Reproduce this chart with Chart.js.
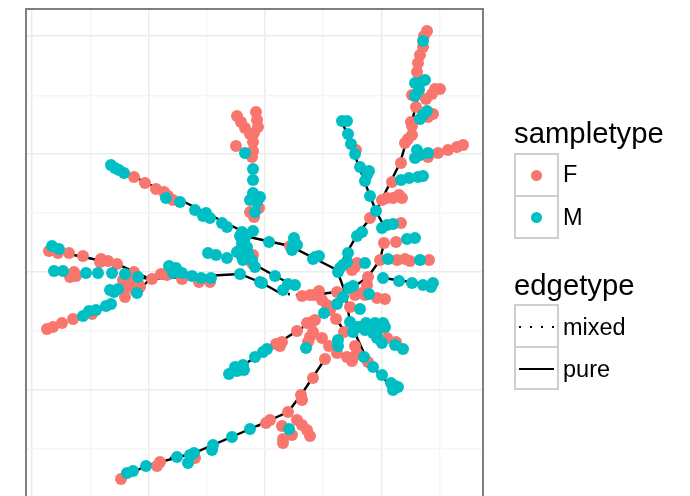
<!DOCTYPE html>
<html>
<head>
<meta charset="utf-8">
<script src="https://cdn.jsdelivr.net/npm/chart.js@4/dist/chart.umd.min.js"></script>
<style>
  html, body { margin: 0; padding: 0; background: #fff; overflow: hidden; }
  #wrap { position: relative; width: 690px; height: 496px; font-family: "Liberation Sans", Arial, sans-serif; color: #000; }
  canvas { position: absolute; left: 0; top: 0; }
  .titulo, .rotulo { position: absolute; white-space: nowrap; line-height: 1; }
  .titulo { font-size: 29.3px; left: 514px; }
  .rotulo { font-size: 23.5px; left: 563px; }
  .chave { position: absolute; left: 514px; width: 41px; height: 40px; border: 2px solid #cfcfcf; box-sizing: content-box; }
  .ponto { position: absolute; left: 15px; top: 14.5px; width: 11px; height: 11px; border-radius: 50%; }
  .linha { position: absolute; left: 3px; width: 35px; height: 2px; }
</style>
</head>
<body>
<div id="wrap">
  <canvas id="grafico" width="690" height="496"></canvas>

  <div class="titulo" style="top:118px">sampletype</div>
  <div class="chave" style="top:153px"><div class="ponto" style="background:#F8766D"></div></div>
  <div class="chave" style="top:195px"><div class="ponto" style="background:#00BFC4"></div></div>
  <div class="rotulo" style="top:163px">F</div>
  <div class="rotulo" style="top:206px">M</div>

  <div class="titulo" style="top:270px">edgetype</div>
  <div class="chave" style="top:304px"><div class="linha" style="top:20px;background:repeating-linear-gradient(90deg,#000 0 2px,transparent 2px 11px)"></div></div>
  <div class="chave" style="top:346px"><div class="linha" style="top:20px;background:#000"></div></div>
  <div class="rotulo" style="top:316px">mixed</div>
  <div class="rotulo" style="top:358px">pure</div>
</div>

<script>
// Coordenadas do layout da rede (eixos sem rotulos)
const pontosF = [
  [102,319],[113,313],[124,307],[132,304],[136,300],[141,296],
  [205,380],[209,374],[213,368],[218,362],[224,384],[225,376],[226,369],[222,363],[221,354],[221,345],[220,339],[204,350],
  [218,284],[222,279],[227,288],
  [395,465],[392,460],[391,449],[388,441],[386,433],[385,424],[380,401],[408,407],[403,407],[400,402],[394,397],[384,389],
  [401,382],[396,379],[379,374],[380,370],[380,361],[376,357],[373,353],[369,333],[360,314],
  [396,339],[406,343],[416,346],[425,349],[431,351],
  [350,296],[355,298],[361,298],[367,301],[370,298],[324,346],[338,278],[369,273],[352,253],[364,254],[258,250],
  [325,233],[320,226],[323,229],[348,236],[365,236],[373,237],[378,235],[397,236],
  [336,219],[335,211],[330,203],[333,201],[323,201],[345,198],[353,197],[305,204],[318,189],
  [270,200],[278,201],[287,205],[282,201],[290,196],[295,191],[298,186],[304,177],[312,164],[355,158],[364,154],
  [280,174],[275,173],[283,176],[281,164],[278,159],[276,154],[265,165],
  [290,158],[297,150],[305,143],[315,139],[320,135],[323,150],[325,143],[321,138],[336,134],
  [250,154],[244,152],[248,150],
  [293,137],[281,118],[269,101],[270,96],[256,84],[265,76],[270,71],[275,66],[278,60],[250,70],[260,61],[251,57],[251,53],
  [238,76],[234,73],[163,38],[128,34],[125,30],[89,17],
  [17,245],[26,243],[37,243],[51,240],[69,237],[76,235],[85,232],[68,234],[42,224],[38,219],[44,220],
  [102,224],[91,216],[98,214],[108,209],[103,206],[93,199],[95,209],[100,218],[106,213],[120,217],[129,222],[135,221],
  [150,217],[167,214],[178,214],
  [15,167],[21,169],[30,173],[41,177],[60,182],
  [221,241],[220,233]
];

const pontosM = [
  [79,331],[83,328],[87,326],[92,323],[134,298],[148,294],[163,286],[171,280],[174,283],[178,278],[190,273],[195,269],
  [210,264],[221,265],[212,254],[208,260],[214,260],[213,343],[221,327],[221,316],[221,303],[218,296],[223,296],[228,299],[225,294],[223,284],
  [391,455],[393,416],[388,413],[383,413],[387,406],[383,400],[395,385],[391,381],[388,377],[385,346],[383,338],[388,341],[396,343],
  [369,316],[377,318],[386,319],[391,320],
  [310,375],[315,375],[316,362],[319,352],[323,342],[328,329],[337,325],[335,321],[333,315],[338,300],[344,285],
  [350,268],[355,271],[361,272],[375,257],[383,258],[330,264],[325,260],
  [262,258],[237,254],[261,251],[265,251],[260,246],[316,243],[315,234],[311,231],[308,228],[306,224],[333,233],
  [283,239],[287,240],[281,237],[356,237],[388,236],
  [351,218],[367,215],[380,213],[391,211],[401,213],[399,209],
  [321,210],[317,208],[311,199],[305,192],[337,202],[328,187],[292,183],
  [318,174],[321,164],[325,169],[334,173],[333,166],[343,173],[351,173],[353,169],[346,166],[341,163],[345,158],[350,153],[328,169],[338,168],
  [363,151],[371,147],[306,156],[306,150],[274,148],[235,147],[231,144],[223,139],
  [332,139],[341,129],[350,121],[359,113],[366,109],[361,106],[363,110],
  [211,131],[212,126],[203,129],[205,125],[197,122],
  [218,67],[200,59],[181,51],[180,46],[162,43],[158,41],[156,33],[145,39],[114,30],[101,25],[95,23],[257,67],
  [20,250],[27,247],[22,225],[31,225],[54,223],[66,223],[80,223],[93,222],[106,219],
  [78,206],[86,207],[82,204],[105,203],
  [137,230],[144,228],[150,223],[141,223],[160,220],[169,218],[179,218],[208,222],[228,214],[230,213],
  [176,243],[184,241],[195,238],
  [51,180],[57,185],[64,186],[74,190],[79,192],
  [210,253],[208,246],[215,249],[205,244],[211,236],[220,236],[223,229],[209,241],[216,243],
  [243,220],[256,212],[263,211],[251,206]
];

const arestasPuras = [
  [[18,246],[85,232],[118,217],[208,222],[230,213],[248,203]],
  [[106,219],[118,217]],
  [[105,204],[118,217]],
  [[79,331],[208,266]],
  [[208,261],[258,250],[305,226],[313,204],[318,174],[336,134],[361,108]],
  [[218,234],[243,220],[263,210]],
  [[305,226],[325,261],[344,285],[368,333],[380,374],[385,396],[389,436],[395,465]],
  [[310,375],[338,300],[344,285],[353,268]],
  [[352,253],[348,236],[336,219],[313,203]],
  [[351,218],[400,211]],
  [[273,200],[304,204]],
  [[298,186],[313,164]],
  [[279,174],[265,165],[243,151],[197,122]],
  [[293,137],[269,101],[256,84],[218,67],[162,43],[113,30],[88,16]]
];

const arestasMistas = [
  [[248,203],[273,200]],
  [[218,67],[233,73]],
  [[138,38],[163,38]]
];

// Linhas de grade
const ticksX = [0,58.2,116.4,174.6,232.8,291,349.2,407.4];
const ticksY = [47.3,106,165.3,224.5,283.3,342,400.5,460];
const ticksXMaiores = [0,116.4,232.8,349.2];
const ticksYMaiores = [106,224.5,342,460];

const corF = '#F8766D';
const corM = '#00BFC4';

function paraPontos(lista) {
    return lista.map(p => ({ x: p[0], y: p[1] }));
}

// Junta as arestas em uma serie so, com um null separando cada trecho
function paraLinhas(arestas) {
    const saida = [];
    arestas.forEach(trecho => {
        trecho.forEach(p => saida.push({ x: p[0], y: p[1] }));
        saida.push({ x: null, y: null });
    });
    return saida;
}

const bordaPainel = {
    id: 'bordaPainel',
    afterDraw(chart) {
        const { ctx, chartArea: a } = chart;
        ctx.save();
        ctx.strokeStyle = '#7f7f7f';
        ctx.lineWidth = 2;
        ctx.beginPath();
        ctx.moveTo(a.left, a.bottom);
        ctx.lineTo(a.left, a.top);
        ctx.lineTo(a.right, a.top);
        ctx.lineTo(a.right, a.bottom);
        ctx.stroke();
        ctx.restore();
    }
};

new Chart(document.getElementById('grafico').getContext('2d'), {
    type: 'scatter',
    data: {
        datasets: [
            { label: 'F', data: paraPontos(pontosF), backgroundColor: corF, borderWidth: 0, pointRadius: 6, order: 2 },
            { label: 'M', data: paraPontos(pontosM), backgroundColor: corM, borderWidth: 0, pointRadius: 6, order: 1 },
            { label: 'pure', data: paraLinhas(arestasPuras), showLine: true, spanGaps: false, borderColor: '#000', borderWidth: 2.4, pointRadius: 0, order: 3 },
            { label: 'mixed', data: paraLinhas(arestasMistas), showLine: true, spanGaps: false, borderColor: '#000', borderWidth: 2.4, borderDash: [2, 6], pointRadius: 0, order: 4 }
        ]
    },
    options: {
        responsive: false,
        animation: false,
        layout: { autoPadding: false, padding: { left: 26, right: 207, top: 9, bottom: 0 } },
        plugins: { legend: { display: false }, tooltip: { enabled: false } },
        scales: {
            x: {
                type: 'linear',
                min: -6,
                max: 451,
                afterBuildTicks: s => { s.ticks = ticksX.map(v => ({ value: v })); },
                afterFit: s => { s.height = 0; },
                ticks: { display: false },
                border: { display: false },
                grid: {
                    drawTicks: false,
                    color: c => ticksXMaiores.includes(c.tick.value) ? '#ebebeb' : '#f6f6f6',
                    lineWidth: 1.4
                }
            },
            y: {
                type: 'linear',
                min: 0,
                max: 487,
                afterBuildTicks: s => { s.ticks = ticksY.map(v => ({ value: v })); },
                afterFit: s => { s.width = 0; },
                ticks: { display: false },
                border: { display: false },
                grid: {
                    drawTicks: false,
                    color: c => ticksYMaiores.includes(c.tick.value) ? '#ebebeb' : '#f6f6f6',
                    lineWidth: 1.4
                }
            }
        }
    },
    plugins: [bordaPainel]
});
</script>
</body>
</html>
